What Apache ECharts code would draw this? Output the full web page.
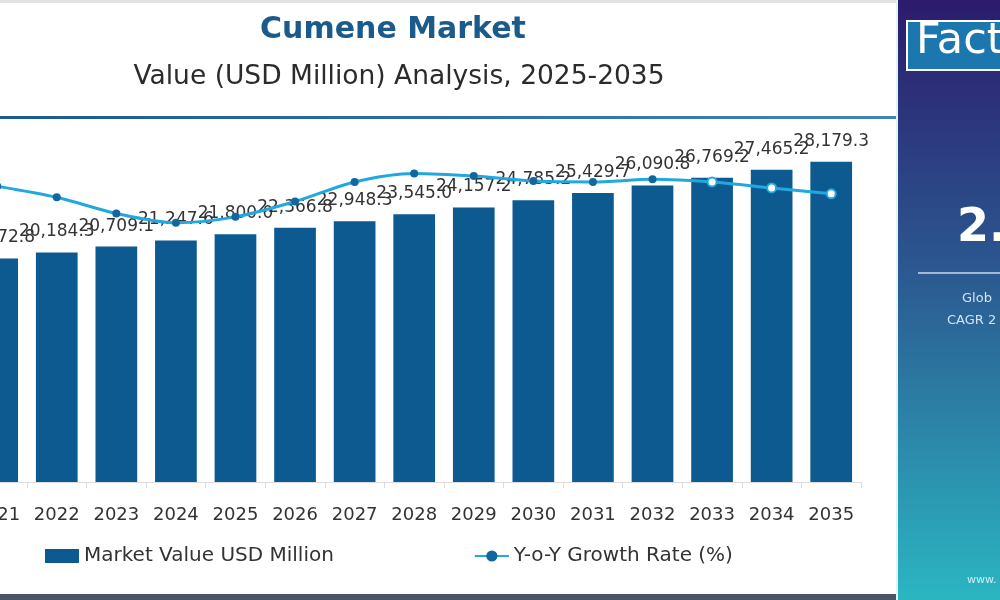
<!DOCTYPE html>
<html>
<head>
<meta charset="utf-8">
<script src="https://cdn.jsdelivr.net/npm/echarts@6/dist/echarts.min.js"></script>
<style>
  html, body { margin: 0; padding: 0; background: #fff; }
  #chart { width: 1000px; height: 600px; }
</style>
</head>
<body>
<div id="chart"></div>
<script>
// Cumene market bar + YoY line
var years = ['2021', '2022', '2023', '2024', '2025', '2026', '2027', '2028',
             '2029', '2030', '2031', '2032', '2033', '2034', '2035'];
var marketValue = [19672.8, 20184.3, 20709.1, 21247.6, 21800.0, 22366.8, 22948.3, 23545.0,
                   24157.2, 24785.2, 25429.7, 26090.8, 26769.2, 27465.2, 28179.3];
// growth line (hidden right axis)
var growthRate = [3.47, 3.34, 3.15, 3.04, 3.11, 3.29, 3.52, 3.62,
                  3.59, 3.53, 3.52, 3.55, 3.52, 3.45, 3.38];
var forecastFrom = 12; // index where markers turn hollow

var font = "'DejaVu Sans', sans-serif";
var myChart = echarts.init(document.getElementById('chart'));

var lineData = growthRate.map(function (v, i) {
    if (i >= forecastFrom) {
        return { value: v, itemStyle: { color: '#ffffff', borderColor: '#22a8e0', borderWidth: 2 }, symbolSize: 9 };
    }
    return v;
});

var option = {
    backgroundColor: '#ffffff',
    animation: false,
    title: [{
        text: 'Cumene Market',
        left: 388, top: 10, textAlign: 'center',
        textStyle: { fontFamily: font, fontSize: 30, fontWeight: 'bold', color: '#1b5b8b' }
    }, {
        text: 'Value (USD Million) Analysis, 2025-2035',
        left: 394, top: 59, textAlign: 'center',
        textStyle: { fontFamily: font, fontSize: 26.5, fontWeight: 'normal', color: '#2b2b2b' }
    }],
    legend: {
        bottom: 29, left: 40,
        itemGap: 140,
        itemWidth: 34, itemHeight: 14,
        textStyle: { fontFamily: font, fontSize: 20, color: '#333' },
        data: [
            { name: 'Market Value USD Million', icon: 'rect' },
            { name: 'Y-o-Y Growth Rate (%)' }
        ]
    },
    grid: {
        left: -32.6, right: 139, top: 141, bottom: 118,
        containLabel: false,
        outerBoundsMode: 'none'
    },
    xAxis: {
        type: 'category',
        data: years,
        axisLine: { lineStyle: { color: '#dcdcdc' } },
        axisTick: { show: true, length: 6, lineStyle: { color: '#dcdcdc' } },
        axisLabel: { fontFamily: font, fontSize: 18, color: '#333', margin: 24, interval: 0 }
    },
    yAxis: [{
        type: 'value', min: 0, max: 30000, show: false,
        splitLine: { show: false }
    }, {
        type: 'value', min: 0, max: 4, show: false,
        splitLine: { show: false }
    }],
    series: [{
        name: 'Market Value USD Million',
        type: 'bar',
        data: marketValue,
        barWidth: '70%',
        itemStyle: { color: '#0d5a90' },
        label: {
            show: true, position: 'top', distance: 12,
            fontFamily: font, fontSize: 17, color: '#333',
            formatter: function (p) {
                return p.value.toLocaleString('en-US', { minimumFractionDigits: 1, maximumFractionDigits: 1 });
            }
        },
        z: 2
    }, {
        name: 'Y-o-Y Growth Rate (%)',
        type: 'line',
        yAxisIndex: 1,
        data: lineData,
        smooth: 0.3,
        symbol: 'circle',
        symbolSize: 8,
        lineStyle: { color: '#22a8e0', width: 3 },
        itemStyle: { color: '#12679f' },
        z: 3
    }],
    graphic: [
        // top gray band
        { type: 'rect', shape: { x: 0, y: 0, width: 1000, height: 3 }, style: { fill: '#e2e2e2' } },
        // blue rule under titles
        { type: 'rect', shape: { x: 0, y: 116, width: 897, height: 3 },
          style: { fill: new echarts.graphic.LinearGradient(0, 0, 1, 0, [
              { offset: 0, color: '#1b5a8a' }, { offset: 1, color: '#3f86b3' }]) } },
        // bottom dark band
        { type: 'rect', shape: { x: 0, y: 594, width: 1000, height: 6 }, style: { fill: '#4a5565' } },
        // right side panel
        { type: 'rect', shape: { x: 896, y: 0, width: 104, height: 600 },
          style: { fill: new echarts.graphic.LinearGradient(0, 0, 0, 1, [
              { offset: 0, color: '#2d1b6d' }, { offset: 0.45, color: '#2b5890' }, { offset: 1, color: '#2bb6c2' }]) } },
        { type: 'rect', shape: { x: 896, y: 0, width: 2, height: 600 }, style: { fill: '#dff4f8' } },
        { type: 'rect', shape: { x: 907, y: 21, width: 100, height: 49 },
          style: { fill: '#1b77ad', stroke: '#ffffff', lineWidth: 2 } },
        { type: 'text', left: 916, top: 20,
          style: { text: 'Fact', fill: '#ffffff', font: '43px ' + font } },
        { type: 'text', left: 957, top: 206,
          style: { text: '2.', fill: '#ffffff', font: 'bold 46px ' + font } },
        { type: 'rect', shape: { x: 918, y: 272, width: 90, height: 2 }, style: { fill: '#9fb8d6' } },
        { type: 'text', left: 962, top: 292,
          style: { text: 'Glob', fill: '#d3e3f3', font: '13px ' + font } },
        { type: 'text', left: 947, top: 314,
          style: { text: 'CAGR 2', fill: '#d3e3f3', font: '13px ' + font } },
        { type: 'text', left: 967, top: 575,
          style: { text: 'www.', fill: '#cfeef8', font: '11px ' + font } }
    ]
};

myChart.setOption(option);
window.onresize = function () {
    myChart.resize();
};
</script>
</body>
</html>
